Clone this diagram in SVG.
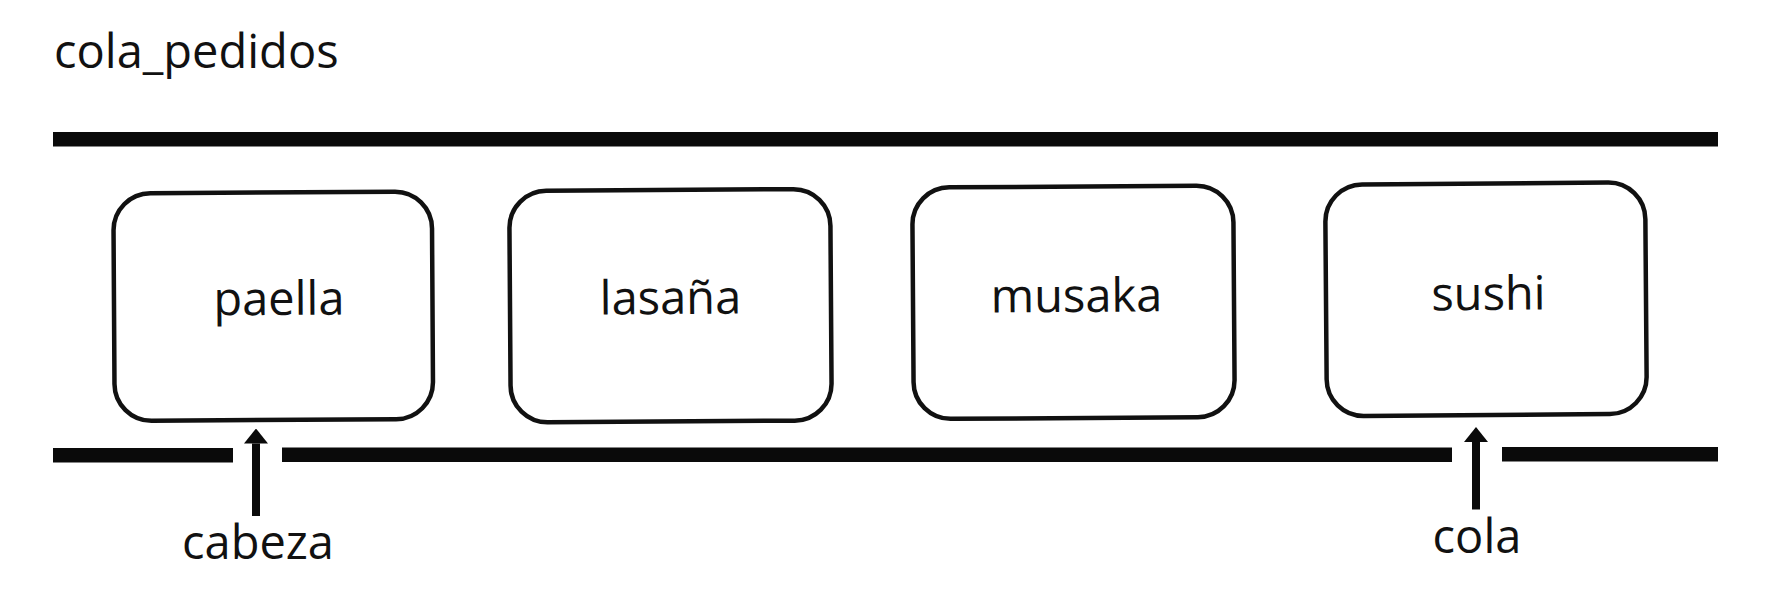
<svg xmlns="http://www.w3.org/2000/svg" width="1771" height="592" viewBox="0 0 1771 592">
  <style>
    text { font-family: "Open Sans", "Noto Sans", "DejaVu Sans", sans-serif; font-size: 47px; fill: #111; }
    .lbl { text-anchor: middle; }
    .box { fill: #fff; stroke: #111; stroke-width: 4.5; }
    .rail { fill: #0a0a0a; }
    .ptr { stroke: #0a0a0a; stroke-width: 8; fill: none; }
  </style>
  <defs>
    <marker id="head" markerUnits="userSpaceOnUse" markerWidth="15" markerHeight="24" refX="0" refY="12" orient="auto" viewBox="0 0 15 24">
      <path d="M0,0 L15,12 L0,24 Z" fill="#0a0a0a"/>
    </marker>
  </defs>
  <rect x="0" y="0" width="1771" height="592" fill="#fff"/>

  <text id="title" x="54" y="68">cola_pedidos</text>

  <g id="rails">
    <rect class="rail" x="53" y="132" width="1665" height="14.5"/>
    <rect class="rail" x="53" y="448" width="180" height="14.5"/>
    <rect class="rail" x="282" y="447.5" width="1170" height="14.5"/>
    <rect class="rail" x="1502" y="447" width="216" height="14.5"/>
  </g>

  <g id="node-paella" transform="rotate(-0.35 273 306)">
    <rect class="box" x="114" y="192.5" width="318.5" height="227.5" rx="37"/>
    <text class="lbl" x="279" y="315">paella</text>
  </g>
  <g id="node-lasana" transform="rotate(-0.4 670 306)">
    <rect class="box" x="510" y="190" width="321" height="231.5" rx="37"/>
    <text class="lbl" x="670.5" y="314">lasaña</text>
  </g>
  <g id="node-musaka" transform="rotate(-0.4 1073 302)">
    <rect class="box" x="913" y="186.5" width="321" height="231.5" rx="37"/>
    <text class="lbl" x="1076.5" y="312">musaka</text>
  </g>
  <g id="node-sushi" transform="rotate(-0.45 1486 299)">
    <rect class="box" x="1326" y="183.5" width="320" height="231.5" rx="37"/>
    <text class="lbl" x="1488.5" y="310">sushi</text>
  </g>

  <g id="connectors">
    <line class="ptr" x1="256" y1="516" x2="256" y2="443.5" marker-end="url(#head)"/>
    <line class="ptr" x1="1476" y1="509.5" x2="1476" y2="442" marker-end="url(#head)"/>
  </g>

  <g id="label-cabeza">
    <text class="lbl" x="258" y="559">cabeza</text>
  </g>
  <g id="label-cola">
    <text class="lbl" x="1477" y="553">cola</text>
  </g>
</svg>
